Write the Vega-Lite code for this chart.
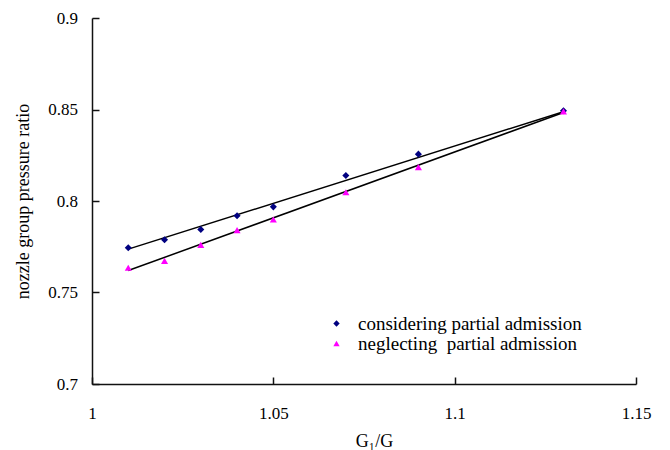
{
  "$schema": "https://vega.github.io/schema/vega-lite/v6.json",
  "width": 544,
  "height": 366,
  "autosize": {"type": "none"},
  "padding": {"left": 92, "top": 18, "right": 34, "bottom": 66},
  "background": "white",
  "datasets": {
    "points": [
      {"x": 1.01, "y": 0.7745, "series": "considering partial admission"},
      {"x": 1.02, "y": 0.7788, "series": "considering partial admission"},
      {"x": 1.03, "y": 0.7844, "series": "considering partial admission"},
      {"x": 1.04, "y": 0.7919, "series": "considering partial admission"},
      {"x": 1.05, "y": 0.7968, "series": "considering partial admission"},
      {"x": 1.07, "y": 0.8139, "series": "considering partial admission"},
      {"x": 1.09, "y": 0.8256, "series": "considering partial admission"},
      {"x": 1.13, "y": 0.8493, "series": "considering partial admission"},
      {"x": 1.01, "y": 0.7635, "series": "neglecting\u00a0 partial admission"},
      {"x": 1.02, "y": 0.7673, "series": "neglecting\u00a0 partial admission"},
      {"x": 1.03, "y": 0.776, "series": "neglecting\u00a0 partial admission"},
      {"x": 1.04, "y": 0.7841, "series": "neglecting\u00a0 partial admission"},
      {"x": 1.05, "y": 0.7899, "series": "neglecting\u00a0 partial admission"},
      {"x": 1.07, "y": 0.8048, "series": "neglecting\u00a0 partial admission"},
      {"x": 1.09, "y": 0.8185, "series": "neglecting\u00a0 partial admission"},
      {"x": 1.13, "y": 0.849, "series": "neglecting\u00a0 partial admission"}
    ],
    "trend": [
      {"x": 1.01, "y": 0.7737, "series": "considering"},
      {"x": 1.13, "y": 0.8488, "series": "considering"},
      {"x": 1.01, "y": 0.762, "series": "neglecting"},
      {"x": 1.13, "y": 0.8484, "series": "neglecting"}
    ]
  },
  "resolve": {"axis": {"x": "independent", "y": "independent"}},
  "layer": [
    {
      "data": {"name": "trend"},
      "mark": {"type": "line", "color": "black", "strokeWidth": 1.5},
      "encoding": {
        "x": {
          "field": "x",
          "type": "quantitative",
          "scale": {"domain": [1, 1.15], "nice": false, "zero": false},
          "axis": {
            "orient": "bottom",
            "values": [1, 1.05, 1.1, 1.15],
            "format": "~g",
            "ticks": false,
            "title": "G₁/G",
            "titleX": 282,
            "titleY": 62,
            "titleBaseline": "alphabetic",
            "labelPadding": 21
          }
        },
        "y": {
          "field": "y",
          "type": "quantitative",
          "scale": {"domain": [0.7, 0.9], "nice": false, "zero": false},
          "axis": {
            "orient": "left",
            "values": [0.7, 0.75, 0.8, 0.85, 0.9],
            "format": "~g",
            "ticks": false,
            "title": "nozzle group pressure ratio",
            "titleX": -64,
            "titleY": 183,
            "titleBaseline": "alphabetic",
            "titleAngle": -90,
            "labelPadding": 14.5
          }
        },
        "detail": {"field": "series"}
      }
    },
    {
      "data": {"name": "points"},
      "mark": {"type": "point", "filled": true, "opacity": 1, "size": 50},
      "encoding": {
        "x": {
          "field": "x",
          "type": "quantitative",
          "scale": {"domain": [1, 1.15], "nice": false, "zero": false},
          "axis": {
            "orient": "bottom",
            "values": [1, 1.05, 1.1, 1.15],
            "offset": -7,
            "tickSize": 7,
            "tickColor": "#111111",
            "tickWidth": 1.5,
            "ticks": true,
            "domain": false,
            "labels": false,
            "title": null
          }
        },
        "y": {
          "field": "y",
          "type": "quantitative",
          "scale": {"domain": [0.7, 0.9], "nice": false, "zero": false},
          "axis": {
            "orient": "left",
            "values": [0.7, 0.75, 0.8, 0.85, 0.9],
            "offset": -7,
            "tickSize": 7,
            "tickColor": "#111111",
            "tickWidth": 1.5,
            "ticks": true,
            "domain": false,
            "labels": false,
            "title": null
          }
        },
        "color": {
          "field": "series",
          "type": "nominal",
          "scale": {
            "domain": ["considering partial admission", "neglecting\u00a0 partial admission"],
            "range": ["#000080", "#FF00FF"]
          },
          "legend": {
            "title": null,
            "orient": "none",
            "legendX": 235,
            "legendY": 296
          }
        },
        "shape": {
          "field": "series",
          "type": "nominal",
          "scale": {
            "domain": ["considering partial admission", "neglecting\u00a0 partial admission"],
            "range": ["diamond", "triangle-up"]
          },
          "legend": {
            "title": null,
            "orient": "none",
            "legendX": 235,
            "legendY": 296
          }
        }
      }
    }
  ],
  "config": {
    "view": {"stroke": null},
    "font": "Liberation Serif",
    "axis": {
      "grid": false,
      "domainColor": "#111111",
      "domainWidth": 1.5,
      "labelFont": "Liberation Serif",
      "labelFontSize": 17,
      "labelColor": "black",
      "labelFlush": false,
      "labelOverlap": false,
      "titleFont": "Liberation Serif",
      "titleFontSize": 18,
      "titleFontWeight": "normal",
      "titleColor": "black"
    },
    "legend": {
      "padding": 0,
      "labelFont": "Liberation Serif",
      "labelFontSize": 19,
      "labelColor": "black",
      "labelOffset": 12,
      "rowPadding": -1.5,
      "symbolSize": 40,
      "symbolStrokeWidth": 0,
      "labelLimit": 400
    }
  }
}
